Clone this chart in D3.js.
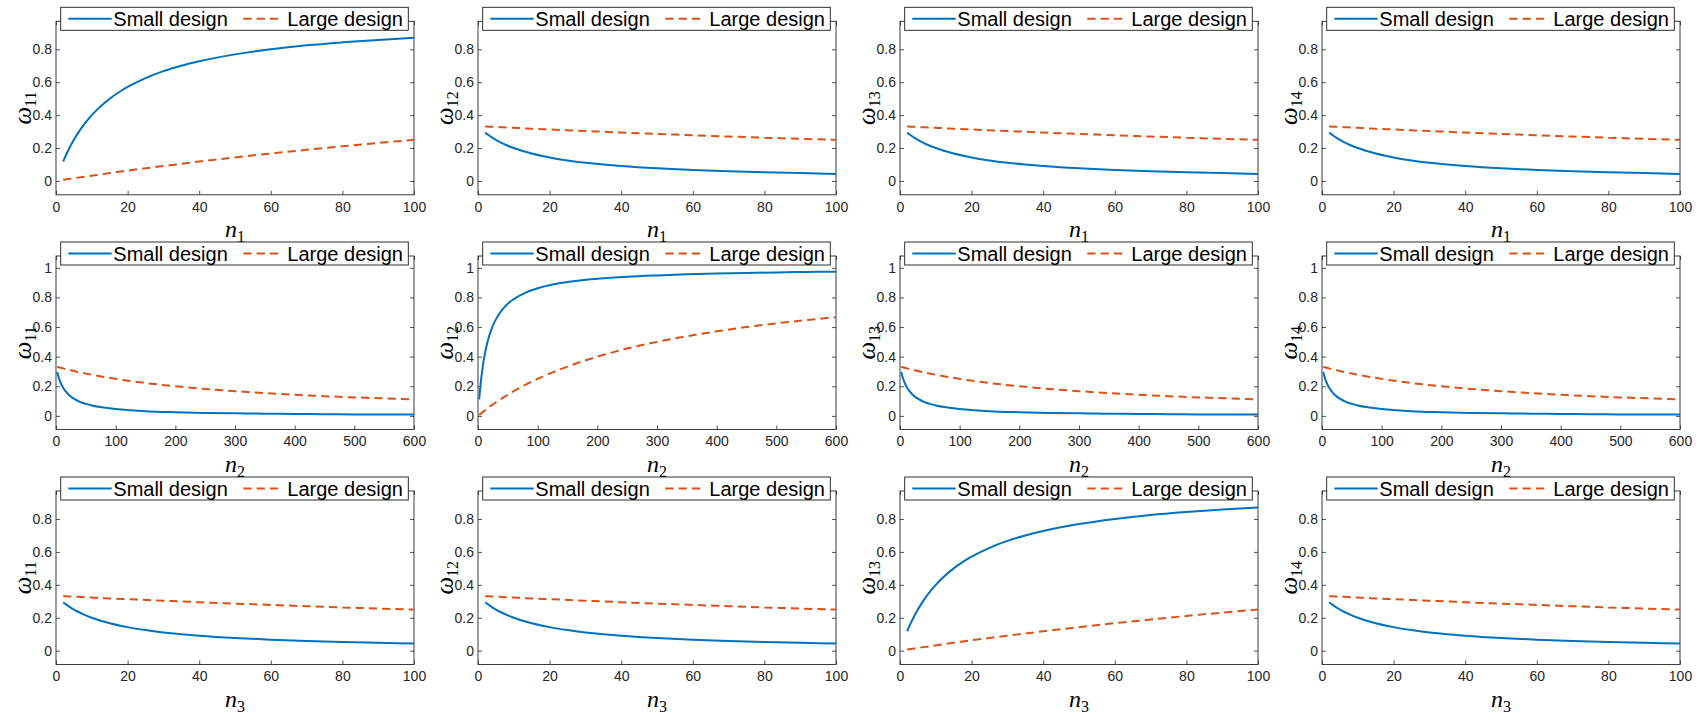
<!DOCTYPE html>
<html>
<head>
<meta charset="utf-8">
<script src="https://cdn.jsdelivr.net/npm/d3@7"></script>
<style>
  body { margin: 0; background: #fff; }
  .tick text { font-family: "Liberation Sans", Arial, sans-serif; fill: #262626; }
</style>
</head>
<body>
<div id="grid"></div>
<script>
// x grids (n1 / n3 axes go to 100, n2 axis goes to 600)
const nShort = [2, 3, 4, 5, 6, 8, 10, 12, 15, 18, 20, 25, 30, 35, 40, 50, 60, 70, 80, 90, 100];
const nLong = [2, 3, 4, 5, 6, 8, 10, 12, 15, 20, 25, 30, 40, 50, 60, 80, 100, 125, 150, 200, 250, 300, 350, 400, 450, 500, 550, 600];

// rising curves (own weight) on the short axis
const smallRiseShort = [0.118, 0.167, 0.211, 0.250, 0.286, 0.348, 0.400, 0.444, 0.500, 0.545, 0.571, 0.625, 0.667, 0.700, 0.727, 0.769, 0.800, 0.824, 0.842, 0.857, 0.870];
const largeRiseShort = [0.007, 0.010, 0.013, 0.016, 0.020, 0.026, 0.032, 0.038, 0.048, 0.057, 0.063, 0.077, 0.091, 0.104, 0.118, 0.143, 0.167, 0.189, 0.211, 0.231, 0.250];
// falling curves (other weights) on the short axis
const smallFallShort = [0.294, 0.278, 0.263, 0.250, 0.238, 0.217, 0.200, 0.185, 0.167, 0.152, 0.143, 0.125, 0.111, 0.100, 0.091, 0.077, 0.067, 0.059, 0.053, 0.048, 0.043];
const largeFallShort = [0.331, 0.330, 0.329, 0.328, 0.327, 0.325, 0.323, 0.321, 0.317, 0.314, 0.313, 0.308, 0.303, 0.299, 0.294, 0.286, 0.278, 0.270, 0.263, 0.256, 0.250];

// same on the long (n2) axis
const smallRiseLong = [0.111, 0.158, 0.200, 0.238, 0.273, 0.333, 0.385, 0.429, 0.484, 0.556, 0.610, 0.652, 0.714, 0.758, 0.789, 0.833, 0.862, 0.887, 0.904, 0.926, 0.940, 0.949, 0.956, 0.962, 0.966, 0.969, 0.972, 0.974];
const largeRiseLong = [0.007, 0.010, 0.013, 0.016, 0.020, 0.026, 0.032, 0.038, 0.048, 0.063, 0.077, 0.091, 0.118, 0.143, 0.167, 0.211, 0.250, 0.294, 0.333, 0.400, 0.455, 0.500, 0.538, 0.571, 0.600, 0.625, 0.647, 0.667];
const smallFallLong = [0.296, 0.281, 0.267, 0.254, 0.242, 0.222, 0.205, 0.190, 0.172, 0.148, 0.130, 0.116, 0.095, 0.081, 0.070, 0.056, 0.046, 0.038, 0.032, 0.025, 0.020, 0.017, 0.015, 0.013, 0.011, 0.010, 0.009, 0.009];
const largeFallLong = [0.331, 0.330, 0.329, 0.328, 0.327, 0.325, 0.323, 0.321, 0.317, 0.313, 0.308, 0.303, 0.294, 0.286, 0.278, 0.263, 0.250, 0.235, 0.222, 0.200, 0.182, 0.167, 0.154, 0.143, 0.133, 0.125, 0.118, 0.111];

// ticks
const xTicksShort = [0, 20, 40, 60, 80, 100];
const xTicksLong = [0, 100, 200, 300, 400, 500, 600];
const yTicksShort = [0, 0.2, 0.4, 0.6, 0.8];
const yTicksLong = [0, 0.2, 0.4, 0.6, 0.8, 1];

const legendLabels = ["Small design", "Large design"];
const xLabelSubs = ["1", "2", "3"];       // rows
const yLabelSubs = ["11", "12", "13", "14"]; // columns

const width = 1702, height = 715;
const colLeft = [56, 478, 900, 1322];
const rowTop = [21.3, 256, 491];
const plotW = 358, plotH = 173.5;
const blue = "#0072BD", orange = "#D95319", axisColor = "#262626";

const svg = d3.select("#grid")
    .append("svg")
    .attr("width", width)
    .attr("height", height)
    .attr("viewBox", `0 0 ${width} ${height}`);

const defs = svg.append("defs");

for (let r = 0; r < 3; r++) {
  for (let c = 0; c < 4; c++) {
    const isLong = r === 1;
    const rising = r === c;
    const xs = isLong ? nLong : nShort;
    let smallVals, largeVals;
    if (isLong) {
      smallVals = rising ? smallRiseLong : smallFallLong;
      largeVals = rising ? largeRiseLong : largeFallLong;
    } else {
      smallVals = rising ? smallRiseShort : smallFallShort;
      largeVals = rising ? largeRiseShort : largeFallShort;
    }

    const x = d3.scaleLinear()
      .domain([0, isLong ? 600 : 100])
      .range([0, plotW]);
    const y = d3.scaleLinear()
      .domain(isLong ? [-0.092, 1.08] : [-0.084, 0.97])
      .range([plotH, 0]);

    const g = svg.append("g")
      .attr("transform", `translate(${colLeft[c]},${rowTop[r]})`);

    const clipId = `clip-${r}-${c}`;
    defs.append("clipPath").attr("id", clipId)
      .append("rect").attr("width", plotW).attr("height", plotH);

    // axes (ticks pointing in, box on all four sides)
    const xt = isLong ? xTicksLong : xTicksShort;
    const yt = isLong ? yTicksLong : yTicksShort;
    const fmt = d => d3.format("~g")(d);

    g.append("g")
      .attr("transform", `translate(0,${plotH})`)
      .call(d3.axisBottom(x).tickValues(xt).tickFormat(fmt).tickSizeInner(-4).tickSizeOuter(0).tickPadding(7));
    g.append("g")
      .call(d3.axisTop(x).tickValues(xt).tickFormat("").tickSizeInner(-4).tickSizeOuter(0));
    g.append("g")
      .call(d3.axisLeft(y).tickValues(yt).tickFormat(fmt).tickSizeInner(-4).tickSizeOuter(0).tickPadding(4));
    g.append("g")
      .attr("transform", `translate(${plotW},0)`)
      .call(d3.axisRight(y).tickValues(yt).tickFormat("").tickSizeInner(-4).tickSizeOuter(0));

    g.selectAll(".domain").remove();
    g.selectAll(".tick line").attr("stroke", axisColor).attr("stroke-width", 0.8);
    g.selectAll(".tick text").style("font-size", "14px");

    g.append("rect")
      .attr("width", plotW)
      .attr("height", plotH)
      .attr("fill", "none")
      .attr("stroke", axisColor)
      .attr("stroke-width", 0.9);

    // curves
    const line = d3.line()
      .x(d => x(d[0]))
      .y(d => y(d[1]))
      .curve(d3.curveMonotoneX);
    const plot = g.append("g").attr("clip-path", `url(#${clipId})`);
    plot.append("path")
      .datum(xs.map((v, i) => [v, smallVals[i]]))
      .attr("d", line)
      .attr("fill", "none")
      .attr("stroke", blue)
      .attr("stroke-width", 2);
    plot.append("path")
      .datum(xs.map((v, i) => [v, largeVals[i]]))
      .attr("d", line)
      .attr("fill", "none")
      .attr("stroke", orange)
      .attr("stroke-width", 2)
      .attr("stroke-dasharray", "8.3,5");

    // legend (north, overlapping the top edge)
    const lg = g.append("g").attr("transform", "translate(4.7,-14)");
    lg.append("rect")
      .attr("width", plotW - 10.4)
      .attr("height", 23)
      .attr("fill", "#fff")
      .attr("stroke", "#1a1a1a")
      .attr("stroke-width", 0.9);
    const items = [
      {label: legendLabels[0], color: blue, dash: null, x0: 7.6, x1: 51, tx: 52.6},
      {label: legendLabels[1], color: orange, dash: "8.3,5", x0: 182.6, x1: 222.5, tx: 226.6}
    ];
    items.forEach(function (it) {
      lg.append("line")
        .attr("x1", it.x0).attr("x2", it.x1)
        .attr("y1", 11.5).attr("y2", 11.5)
        .attr("stroke", it.color)
        .attr("stroke-width", 2)
        .attr("stroke-dasharray", it.dash);
      lg.append("text")
        .attr("x", it.tx)
        .attr("y", 18.5)
        .style("font-family", "'Liberation Sans', Arial, sans-serif")
        .style("font-size", "20px")
        .attr("fill", "#000")
        .text(it.label);
    });

    // axis labels
    const xl = g.append("text")
      .attr("x", plotW / 2)
      .attr("y", plotH + 42)
      .attr("text-anchor", "middle")
      .style("font-family", "'Liberation Serif', 'Times New Roman', serif")
      .style("font-style", "italic")
      .style("font-size", "24px")
      .attr("fill", "#000");
    xl.append("tspan").text("n");
    xl.append("tspan").attr("dy", 5).style("font-size", "16px").style("font-style", "normal").text(xLabelSubs[r]);

    const yl = g.append("text")
      .attr("transform", `translate(-25,${plotH / 2}) rotate(-90)`)
      .attr("text-anchor", "middle")
      .style("font-family", "'Liberation Serif', 'Times New Roman', serif")
      .style("font-style", "italic")
      .style("font-size", "25px")
      .attr("fill", "#000");
    yl.append("tspan").text("ω");
    yl.append("tspan").attr("dy", 5).style("font-size", "16px").style("font-style", "normal").text(yLabelSubs[c]);
  }
}
</script>
</body>
</html>
